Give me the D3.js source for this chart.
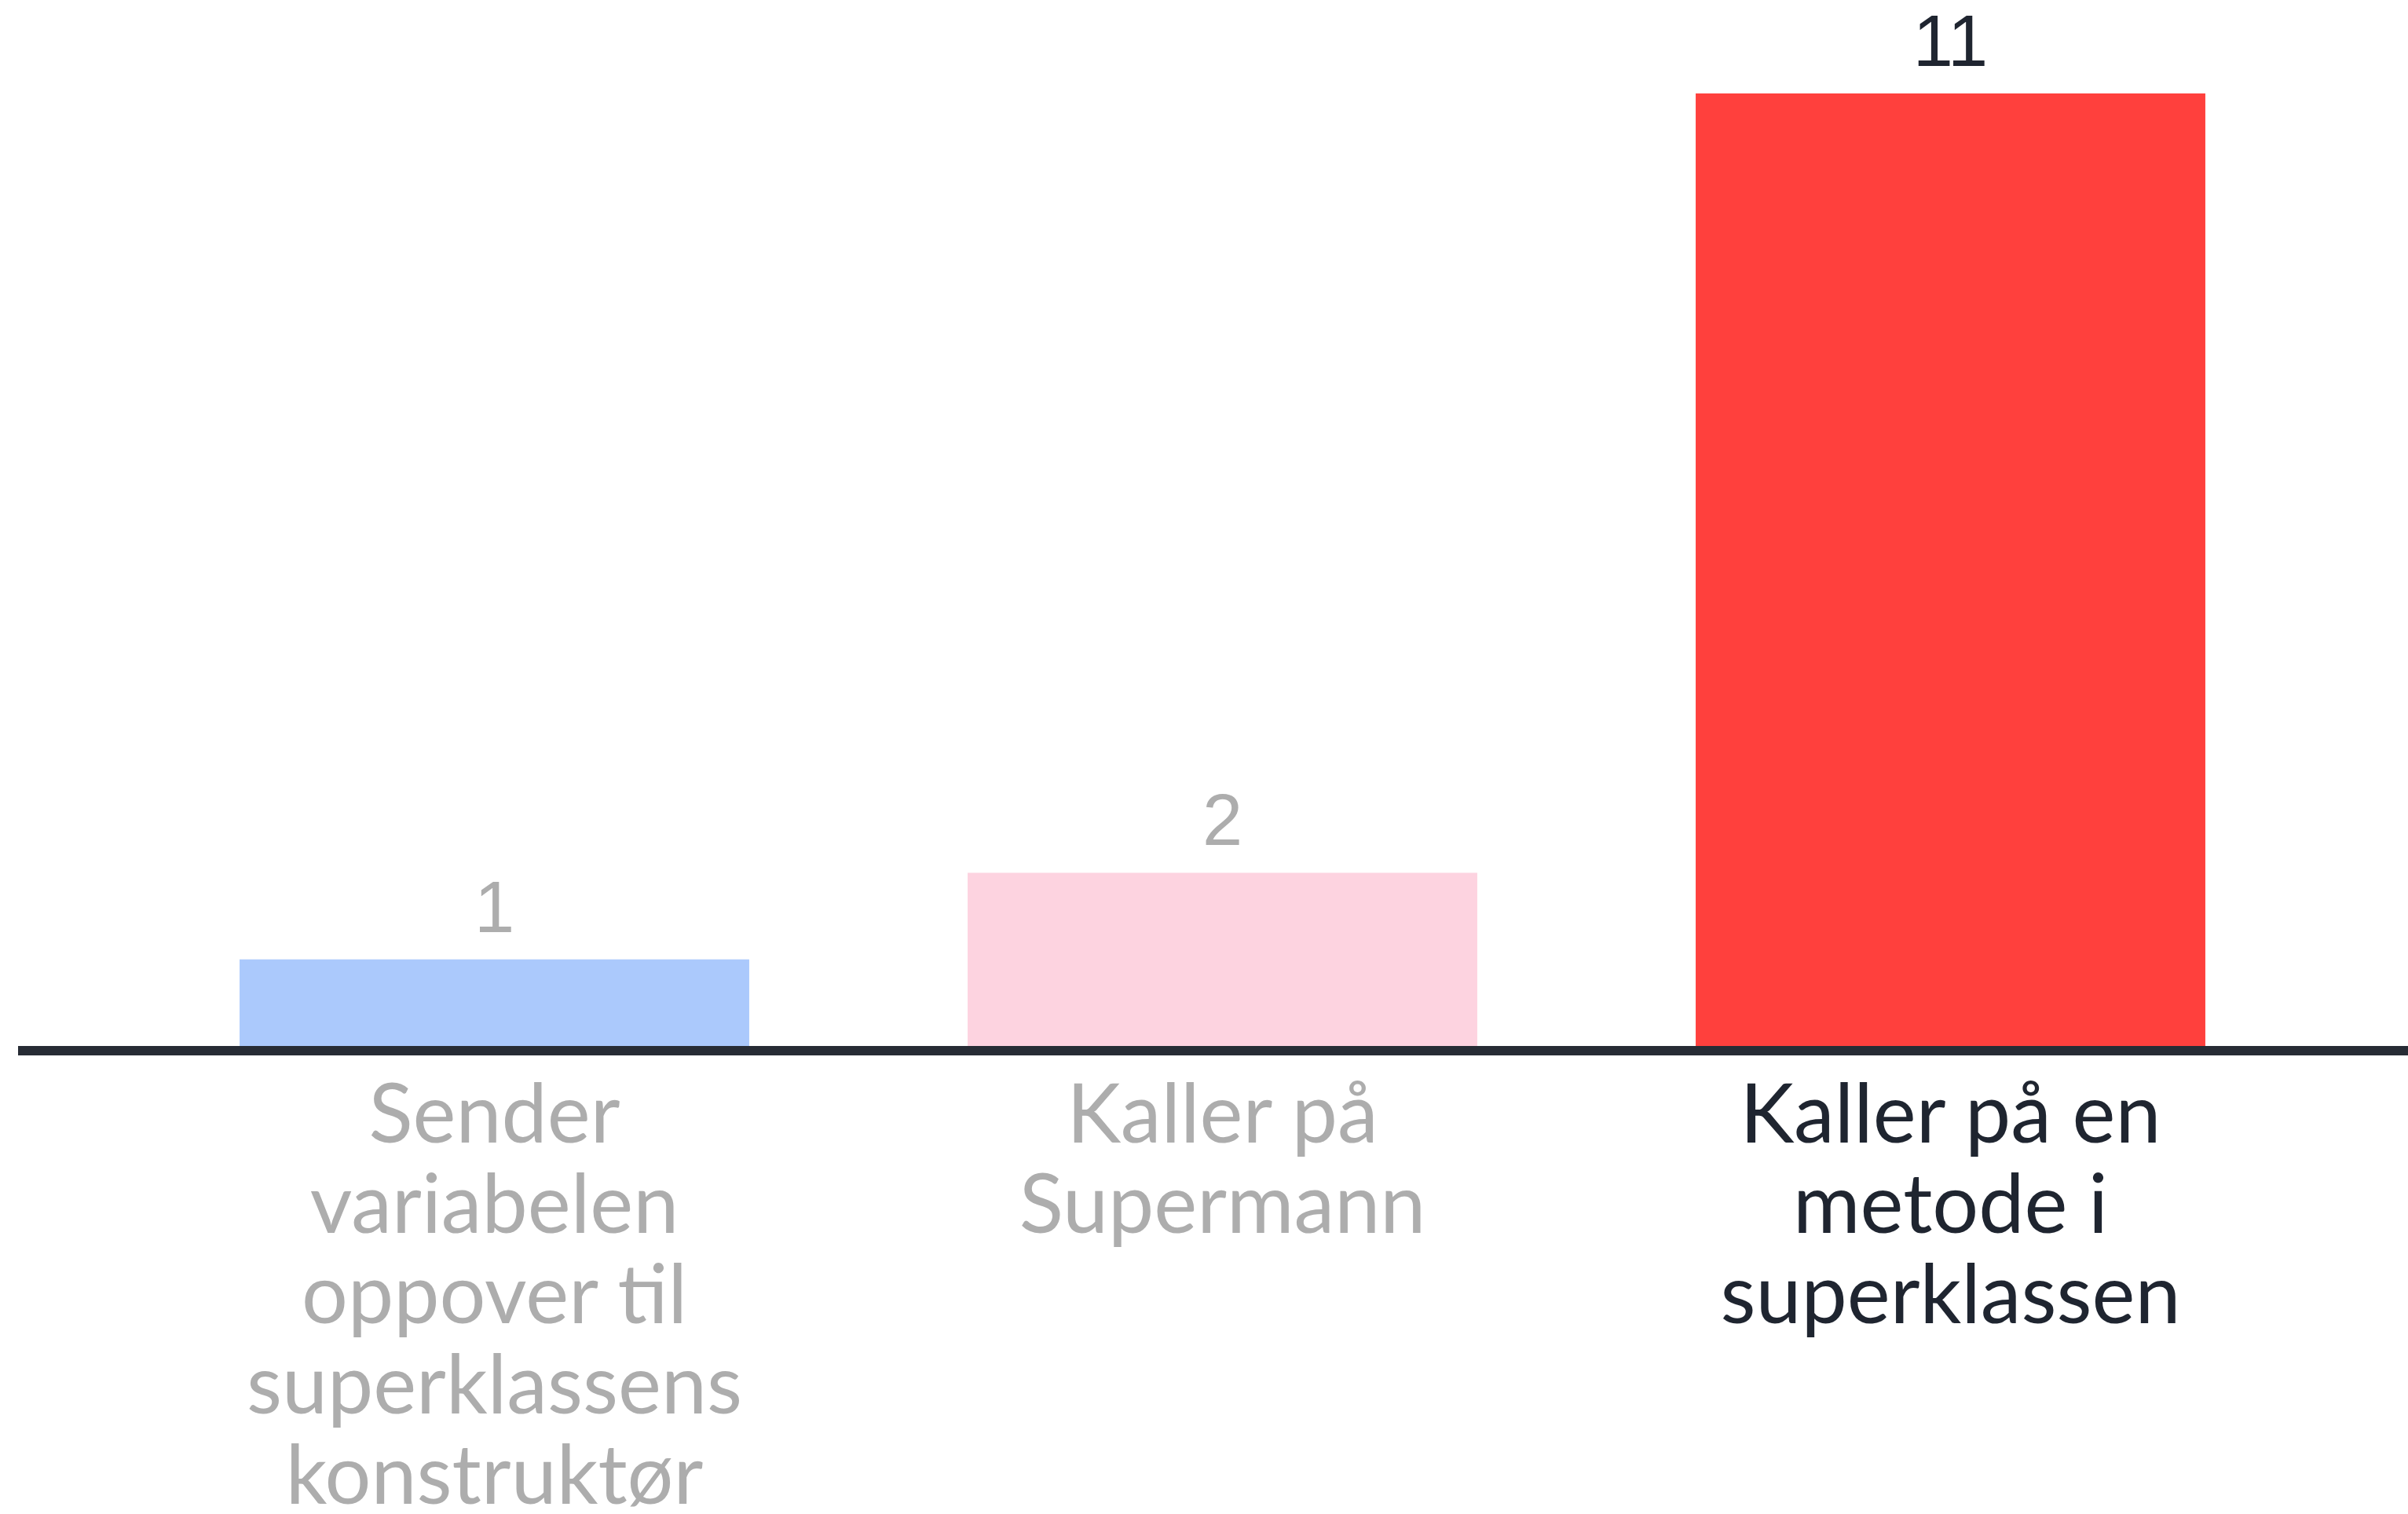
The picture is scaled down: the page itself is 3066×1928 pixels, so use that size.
<!DOCTYPE html>
<html>
<head>
<meta charset="utf-8">
<script src="https://cdn.jsdelivr.net/npm/d3@7"></script>
<style>
  html, body { margin: 0; padding: 0; background: #fff; }
  svg { display: block; }
</style>
</head>
<body>
<script>
// data
let categories = ["a", "b", "c"];
let labelLines = [
  ["Sender", "variabelen", "oppover til", "superklassens", "konstruktør"],
  ["Kaller på", "Supermann"],
  ["Kaller på en", "metode i", "superklassen"]
];
let values = [1, 2, 11];
let barColors = ["#abc9fc", "#fdd3e0", "#ff403d"];
let textColors = ["#adadad", "#adadad", "#1f2530"];

let width = 3066, height = 1928;
let baseY = 1332;

let svg = d3.select("body").append("svg")
  .attr("width", width)
  .attr("height", height);

let x = d3.scaleBand()
  .domain(categories)
  .range([166, 2947])
  .paddingInner(0.3)
  .paddingOuter(0.15);

let y = d3.scaleLinear()
  .domain([0, 11])
  .range([baseY, 119]);

// bars
svg.selectAll(".bar")
  .data(values)
  .enter()
  .append("rect")
  .attr("class", "bar")
  .attr("x", (d, i) => x(categories[i]))
  .attr("y", d => y(d))
  .attr("width", x.bandwidth())
  .attr("height", d => y(0) - y(d))
  .attr("fill", (d, i) => barColors[i]);

// value labels
svg.selectAll(".val")
  .data(values)
  .enter()
  .append("text")
  .attr("class", "val")
  .attr("x", (d, i) => x(categories[i]) + x.bandwidth() / 2)
  .attr("y", d => y(d) - 35)
  .attr("text-anchor", "middle")
  .attr("font-family", "Liberation Sans, Arial, sans-serif")
  .attr("font-size", 92)
  .attr("fill", (d, i) => textColors[i])
  .text(d => d);

// baseline
svg.append("line")
  .attr("x1", 23)
  .attr("x2", width)
  .attr("y1", baseY + 6)
  .attr("y2", baseY + 6)
  .attr("stroke", "#272c35")
  .attr("stroke-width", 12);

// category labels
let cat = svg.selectAll(".cat")
  .data(labelLines)
  .enter()
  .append("text")
  .attr("class", "cat")
  .attr("text-anchor", "middle")
  .attr("font-family", "Lato, sans-serif")
  .attr("font-size", 104)
  .attr("fill", (d, i) => textColors[i]);

cat.selectAll("tspan")
  .data((d, i) => d.map(line => ({line: line, i: i})))
  .enter()
  .append("tspan")
  .attr("x", d => x(categories[d.i]) + x.bandwidth() / 2)
  .attr("y", (d, j) => 1455 + j * 115)
  .text(d => d.line);
</script>
</body>
</html>
